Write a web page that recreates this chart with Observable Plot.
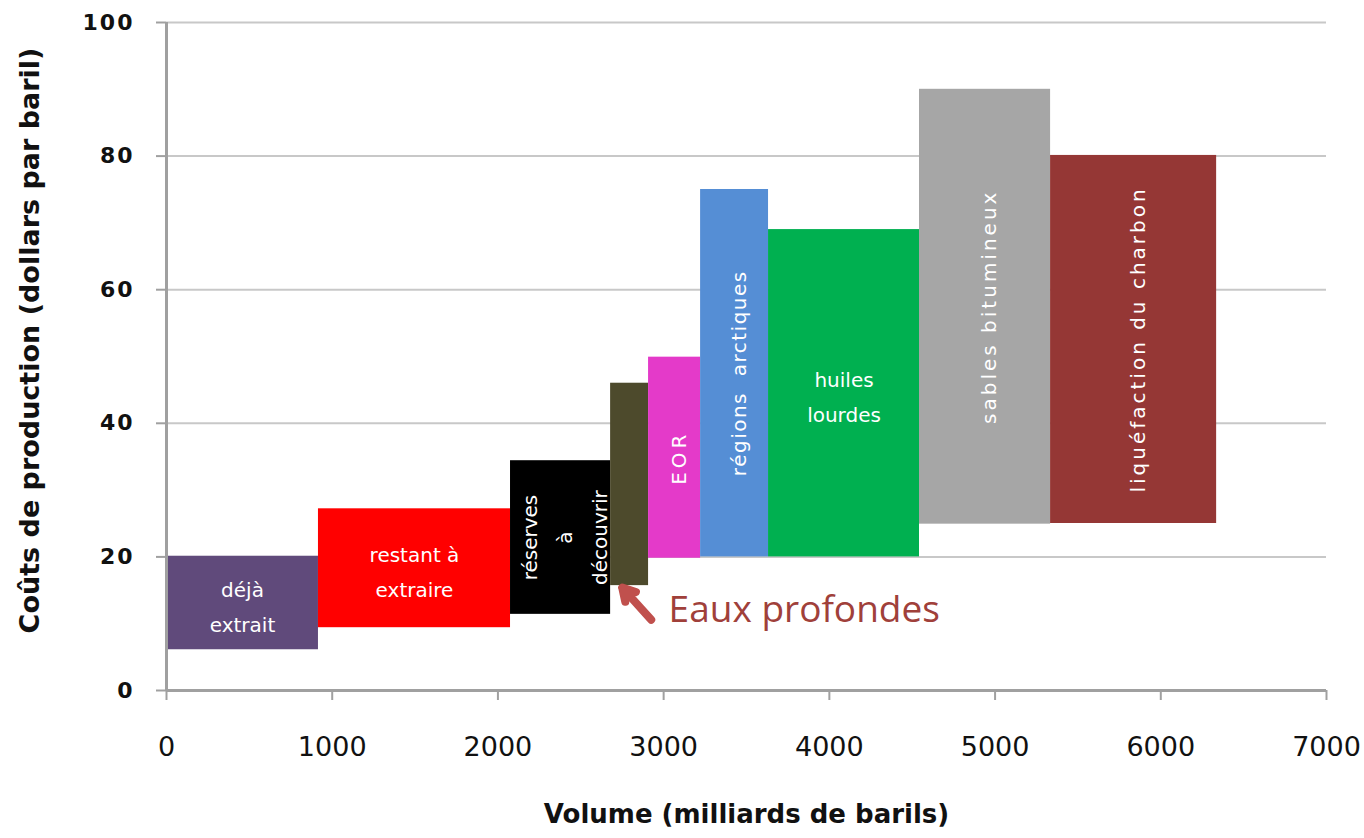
<!DOCTYPE html>
<html>
<head>
<meta charset="utf-8">
<script src="https://cdn.jsdelivr.net/npm/d3@7"></script>
<script src="https://cdn.jsdelivr.net/npm/@observablehq/plot@0.6"></script>
<style>
  html, body { margin: 0; padding: 0; background: #fff; overflow: hidden; }
  g[aria-label="y-axis tick label"] text { letter-spacing: 2px; }
</style>
</head>
<body>
<div id="chart"></div>
<script>
// ---- Data ----
const categories = ["déjà extrait", "restant à extraire", "réserves à découvrir", "eaux profondes", "EOR", "régions arctiques", "huiles lourdes", "sables bitumineux", "liquéfaction du charbon"];
const labelText = ["déjà\nextrait", "restant à\nextraire", "réserves\nà\ndécouvrir", "", "EOR", "régions  arctiques", "huiles\nlourdes", "sables bitumineux", "liquéfaction du charbon"];
const rotatedLabels = ["réserves à découvrir", "EOR", "régions arctiques", "sables bitumineux", "liquéfaction du charbon"];
const volumeStart = [0, 917, 2076, 2680, 2909, 3223, 3633, 4544, 5335];
const volumeEnd = [917, 2076, 2680, 2909, 3223, 3633, 4544, 5335, 6337];
const costLow = [6.1, 9.4, 11.4, 15.7, 19.8, 20, 20, 24.9, 25];
const costHigh = [20.1, 27.2, 34.4, 46.0, 49.9, 75.0, 69.0, 90.0, 80.1];
const palette = ["#604a7b", "#ff0000", "#000000", "#4d4a2c", "#e43ac9", "#558ed5", "#00b050", "#a6a6a6", "#953735"];
const xTicks = [0, 1000, 2000, 3000, 4000, 5000, 6000, 7000];
const yTicks = [0, 20, 40, 60, 80, 100];
const xTitle = "Volume (milliards de barils)";
const yTitle = "Coûts de production (dollars par baril)";
const annotation = {text: "Eaux profondes", x: 3030, y: 12.0, arrowFromX: 2925, arrowFromY: 10.6, arrowToX: 2750, arrowToY: 15.4};

const rows = categories.map((c, i) => ({
  category: c,
  label: labelText[i],
  x1: volumeStart[i], x2: volumeEnd[i],
  y1: costLow[i], y2: costHigh[i],
  rotated: rotatedLabels.includes(c)
}));

const chart = Plot.plot({
  width: 1364,
  height: 838,
  marginLeft: 166,
  marginRight: 38,
  marginTop: 22,
  marginBottom: 148,
  style: {fontFamily: "DejaVu Sans", background: "#fff", overflow: "visible"},
  x: {domain: [0, 7000], ticks: xTicks},
  y: {domain: [0, 100], ticks: yTicks},
  color: {domain: categories, range: palette},
  marks: [
    Plot.ruleY(yTicks.filter(d => d > 0), {stroke: "#c8c8c8", strokeWidth: 2}),
    Plot.rect(rows, {x1: "x1", x2: "x2", y1: "y1", y2: "y2", fill: "category", inset: 0}),
    Plot.text(rows.filter(d => !d.rotated), {
      x: d => (d.x1 + d.x2) / 2, y: d => (d.y1 + d.y2) / 2, text: "label",
      fill: "white", fontSize: 20, lineHeight: 1.75, fontFamily: "DejaVu Sans"
    }),
    Plot.text(rows.filter(d => d.rotated), {
      x: d => (d.x1 + d.x2) / 2, y: d => (d.y1 + d.y2) / 2, text: "label",
      fill: "white", fontSize: 20, lineHeight: 1.75, rotate: -90, fontFamily: "DejaVu Sans"
    }),
    Plot.ruleX([0], {stroke: "#a0a0a0", strokeWidth: 3}),
    Plot.ruleY([0], {stroke: "#a0a0a0", strokeWidth: 3}),
    Plot.axisY({
      ticks: yTicks, tickSize: 10, tickPadding: 22, label: null,
      fontSize: 22, fontWeight: "bold", stroke: "#a0a0a0", strokeWidth: 2, color: "#111"
    }),
    Plot.axisX({
      ticks: xTicks, tickSize: 10, tickPadding: 36, label: null, tickFormat: d => String(d),
      fontSize: 27, stroke: "#a0a0a0", strokeWidth: 2, color: "#111"
    }),
    Plot.text([yTitle], {
      frameAnchor: "left", textAnchor: "middle", dx: -136, dy: -16, rotate: -90,
      fontSize: 27, fontWeight: "bold", fill: "#111"
    }),
    Plot.text([xTitle], {
      frameAnchor: "bottom", textAnchor: "middle", dy: 132, fontSize: 26, fontWeight: "bold", fill: "#111"
    }),
    Plot.arrow([annotation], {
      x1: "arrowFromX", y1: "arrowFromY", x2: "arrowToX", y2: "arrowToY",
      stroke: "#c0504d", strokeWidth: 8, headLength: 18, bend: 0
    }),
    Plot.text([annotation], {
      x: "x", y: "y", text: "text", textAnchor: "start", fontSize: 37,
      fontFamily: "Open Sans", fill: "#a0403a"
    })
  ]
});
document.getElementById("chart").appendChild(chart);

// Wider letter spacing for in-bar labels, as in the reference
const spacing = {"sables bitumineux": "3px", "liquéfaction du charbon": "3px", "EOR": "4px", "régions  arctiques": "1.5px"};
d3.select(chart).selectAll("text").each(function () {
  const t = this.textContent;
  if (spacing[t]) this.style.letterSpacing = spacing[t];
});
</script>
</body>
</html>
